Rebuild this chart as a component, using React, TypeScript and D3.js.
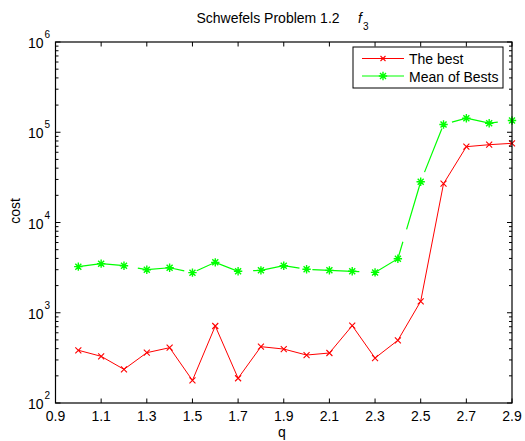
import React from "react";
import * as d3 from "d3";

// q values on the x axis
const qValues = [1.0, 1.1, 1.2, 1.3, 1.4, 1.5, 1.6, 1.7, 1.8, 1.9, 2.0, 2.1, 2.2, 2.3, 2.4, 2.5, 2.6, 2.7, 2.8, 2.9];
// "The best" series
const bestCost = [384, 329, 236, 361, 410, 178, 713, 188, 421, 396, 340, 358, 719, 315, 495, 1340, 26900, 69200, 72800, 75400];
// "Mean of Bests" series
const meanCost = [3240, 3500, 3320, 3000, 3150, 2780, 3620, 2880, 2950, 3320, 3030, 2950, 2880, 2800, 3970, 28300, 122000, 143000, 126000, 135000];
// ticks
const xTicks = [0.9, 1.1, 1.3, 1.5, 1.7, 1.9, 2.1, 2.3, 2.5, 2.7, 2.9];
const yExponents = [2, 3, 4, 5, 6];
const seriesNames = ["The best", "Mean of Bests"];

const W = 525;
const H = 441;
const FONT = "'Liberation Sans', Arial, Helvetica, sans-serif";

const left = 55.5;
const right = 512;
const top = 42;
const bottom = 403;

const RED = "#ff0000";
const GREEN = "#00ff00";

const XMark = ({ x, y, s = 3 }: { x: number; y: number; s?: number }) => (
  <path d={`M${x - s},${y - s}L${x + s},${y + s}M${x - s},${y + s}L${x + s},${y - s}`} stroke={RED} strokeWidth={1.1} fill="none" />
);

const StarMark = ({ x, y }: { x: number; y: number }) => {
  const s = 3;
  const p = 4.2;
  return (
    <path
      d={`M${x - s},${y - s}L${x + s},${y + s}M${x - s},${y + s}L${x + s},${y - s}M${x - p},${y}L${x + p},${y}M${x},${y - p}L${x},${y + p}`}
      stroke={GREEN}
      strokeWidth={1.4}
      fill="none"
    />
  );
};

export default function App() {
  const x = d3.scaleLinear().domain([0.9, 2.9]).range([left, right]);
  const y = d3.scaleLog().domain([1e2, 1e6]).range([bottom, top]);

  const line = d3
    .line<[number, number]>()
    .x((d) => x(d[0]))
    .y((d) => y(d[1]));

  const bestPts = qValues.map((q, i) => [q, bestCost[i]] as [number, number]);
  const meanPts = qValues.map((q, i) => [q, meanCost[i]] as [number, number]);

  // minor ticks for log axis
  const minor: number[] = [];
  for (let e = 2; e < 6; e++) for (let m = 2; m <= 9; m++) minor.push(m * Math.pow(10, e));

  const axisColor = "#000";

  return (
    <svg width={W} height={H} style={{ position: "absolute", left: 0, top: 0, background: "#fff" }} fontFamily={FONT}>
      <rect x={0} y={0} width={W} height={H} fill="#fff" />

      {/* data lines */}
      <path d={line(bestPts) || ""} stroke={RED} strokeWidth={1} fill="none" />
      <path d={line(meanPts) || ""} stroke={GREEN} strokeWidth={1.2} fill="none" strokeDasharray="47,13" />
      {bestPts.map((d, i) => (
        <XMark key={"b" + i} x={x(d[0])} y={y(d[1])} />
      ))}
      {meanPts.map((d, i) => (
        <StarMark key={"m" + i} x={x(d[0])} y={y(d[1])} />
      ))}

      {/* box */}
      <rect x={left} y={top} width={right - left} height={bottom - top} fill="none" stroke={axisColor} strokeWidth={1.2} />

      {/* x ticks */}
      {xTicks.map((t) => (
        <g key={"x" + t}>
          <line x1={x(t)} x2={x(t)} y1={bottom} y2={bottom - 4.5} stroke={axisColor} />
          <line x1={x(t)} x2={x(t)} y1={top} y2={top + 4.5} stroke={axisColor} />
          <text x={x(t)} y={421} fontSize={14} textAnchor="middle" fill="#000">
            {t.toFixed(1)}
          </text>
        </g>
      ))}

      {/* y ticks */}
      {yExponents.map((e) => {
        const v = Math.pow(10, e);
        const yy = y(v);
        return (
          <g key={"y" + e}>
            <line x1={left} x2={left + 5} y1={yy} y2={yy} stroke={axisColor} />
            <line x1={right} x2={right - 5} y1={yy} y2={yy} stroke={axisColor} />
            <text x={43.5} y={yy + 6} fontSize={14} textAnchor="end" fill="#000">
              10
            </text>
            <text x={44.5} y={yy - 4} fontSize={10} textAnchor="start" fill="#000">
              {e}
            </text>
          </g>
        );
      })}
      {minor.map((v, i) => (
        <g key={"mn" + i}>
          <line x1={left} x2={left + 3} y1={y(v)} y2={y(v)} stroke={axisColor} />
          <line x1={right} x2={right - 3} y1={y(v)} y2={y(v)} stroke={axisColor} />
        </g>
      ))}

      {/* title */}
      <text x={268} y={23} fontSize={14} textAnchor="middle" fill="#000">
        Schwefels Problem 1.2
      </text>
      <text x={358} y={23} fontSize={14} fontStyle="italic" fill="#000">
        f
      </text>
      <text x={363} y={30} fontSize={10} fill="#000">
        3
      </text>

      {/* axis labels */}
      <text x={282} y={437} fontSize={14} textAnchor="middle" fill="#000">
        q
      </text>
      <text transform="translate(20,211) rotate(-90)" fontSize={14} textAnchor="middle" fill="#000">
        cost
      </text>

      {/* legend */}
      <rect x={353} y={47} width={150} height={41} fill="#fff" stroke="#000" strokeWidth={1} />
      <line x1={362} x2={404} y1={58.5} y2={58.5} stroke={RED} strokeWidth={1} />
      <XMark x={383} y={58.5} s={2.5} />
      <text x={409} y={64} fontSize={14} fill="#000">
        {seriesNames[0]}
      </text>
      <line x1={362} x2={404} y1={76} y2={76} stroke={GREEN} strokeWidth={1.2} />
      <StarMark x={383} y={76} />
      <text x={409} y={81.5} fontSize={14} fill="#000">
        {seriesNames[1]}
      </text>
    </svg>
  );
}
